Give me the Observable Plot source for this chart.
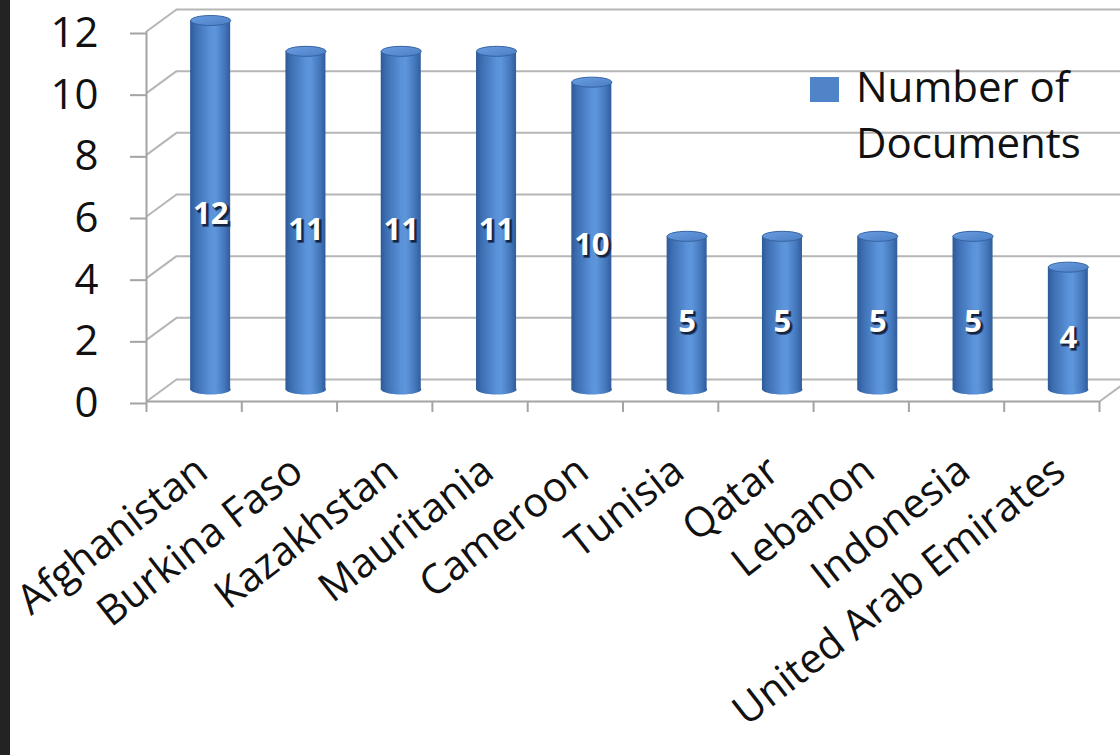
<!DOCTYPE html>
<html><head><meta charset="utf-8">
<script src="https://cdn.jsdelivr.net/npm/d3@7"></script>
<script src="https://cdn.jsdelivr.net/npm/@observablehq/plot@0.6"></script>
<style>
html,body{margin:0;padding:0;background:#fff;}
#wrap{position:relative;width:1120px;height:755px;overflow:hidden;font-family:"Open Sans",sans-serif;background:#fff;}
#strip{position:absolute;left:0;top:0;width:10px;height:755px;background:#232323;}
#swatch{position:absolute;left:810px;top:77px;width:29px;height:25px;background:#4f84c8;}
#legend{position:absolute;left:856px;top:58px;font-size:42px;line-height:56px;color:#111;width:260px;}
#chart svg{display:block;}
</style></head>
<body>
<div id="wrap"><div id="chart"></div><div id="strip"></div><div id="swatch"></div><div id="legend"></div></div>
<script>
const categories = ["Afghanistan","Burkina Faso","Kazakhstan","Mauritania","Cameroon","Tunisia","Qatar","Lebanon","Indonesia","United Arab Emirates"];
const documents = [12,11,11,11,10,5,5,5,5,4];
const yTicks = [0,2,4,6,8,10,12];
const legendLines = ["Number of","Documents"];

const data = categories.map((c,i)=>({category:c, index:i, value:documents[i]}));

function ellipseSymbol(rx, ry){
  const k = 0.5523;
  return {draw(ctx){
    ctx.moveTo(rx,0);
    ctx.bezierCurveTo(rx, ry*k, rx*k, ry, 0, ry);
    ctx.bezierCurveTo(-rx*k, ry, -rx, ry*k, -rx, 0);
    ctx.bezierCurveTo(-rx, -ry*k, -rx*k, -ry, 0, -ry);
    ctx.bezierCurveTo(rx*k, -ry, rx, -ry*k, rx, 0);
    ctx.closePath();
  }};
}
const depthDX = 30, depthDY = -22;
const depthSymbol = {draw(ctx){ ctx.moveTo(0,0); ctx.lineTo(depthDX, depthDY); }};
const barDX = 16.5, barDY = -11, halfW = 0.21;
const cap = ellipseSymbol(20, 5);

const gridColor = "#b6b6b6", axisColor = "#a4a4a4";
const font = "'Open Sans', sans-serif";

const svg = Plot.plot({
  width: 1120, height: 755,
  marginLeft: 146, marginRight: 21, marginTop: 31, marginBottom: 354,
  x: {domain: [0, categories.length]},
  y: {domain: [0, 12]},
  style: {background: "transparent", fontFamily: font, overflow: "visible"},
  marks: [
    // back wall gridlines
    Plot.ruleY(yTicks, {dx: depthDX, dy: depthDY, stroke: gridColor, strokeWidth: 2}),
    // side wall depth lines
    Plot.dot(yTicks, {x: () => 0, y: d => d, symbol: depthSymbol, r: 1, fill: "none", stroke: gridColor, strokeWidth: 2}),
    Plot.dot([0], {x: () => categories.length, y: d => d, symbol: depthSymbol, r: 1, fill: "none", stroke: gridColor, strokeWidth: 2}),
    // front axis lines
    Plot.ruleY([0], {stroke: axisColor, strokeWidth: 2}),
    Plot.ruleX([0], {y1: 0, y2: 12, stroke: axisColor, strokeWidth: 2}),
    Plot.axisY(yTicks, {tickSize: 16, tickPadding: 32, fontSize: 42, stroke: axisColor, strokeWidth: 2, fill: "#111", label: null, dy: 2}),
    Plot.axisX(d3.range(categories.length + 1), {tickSize: 11, tickFormat: () => "", stroke: axisColor, strokeWidth: 2, label: null}),
    // cylinders
    Plot.dot(data, {x: d => d.index + 0.5, y: () => 0, symbol: cap, r: 1, dx: barDX, dy: barDY - 1, fill: "url(#cyl)", stroke: "none"}),
    Plot.rectY(data, {x1: d => d.index + 0.5 - halfW, x2: d => d.index + 0.5 + halfW, y1: 0, y2: "value", dx: barDX, dy: barDY, fill: "url(#cyl)"}),
    Plot.dot(data, {x: d => d.index + 0.5, y: "value", symbol: cap, r: 1, dx: barDX, dy: barDY, fill: "url(#cap)", stroke: "#3563a3", strokeWidth: 1}),
    // data labels (shadow + white)
    Plot.text(data, {x: d => d.index + 0.5, y: d => d.value / 2, text: d => String(d.value), dx: barDX + 2, dy: 0, fill: "#14233f", fontSize: 31, fontWeight: "bold", stroke: "#14233f", strokeWidth: 2, strokeOpacity: 0.6}),
    Plot.text(data, {x: d => d.index + 0.5, y: d => d.value / 2, text: d => String(d.value), dx: barDX, dy: -2, fill: "#fff", fontSize: 31, fontWeight: "bold"}),
    // category labels
    Plot.text(data, {x: d => d.index + 0.5, y: () => 0, text: "category", rotate: -38, textAnchor: "end", lineAnchor: "middle", dx: 8, dy: 64, fontSize: 41, fill: "#111"})
  ]
});

const defs = d3.select(svg).insert("defs", ":first-child");
const g1 = defs.append("linearGradient").attr("id", "cyl").attr("x1", 0).attr("x2", 1).attr("y1", 0).attr("y2", 0);
[[0,"#2c5a97"],[0.12,"#3b6cb0"],[0.5,"#5a91d8"],[0.62,"#5e96dc"],[0.85,"#4578bd"],[1,"#2f5d9c"]].forEach(([o,c]) => g1.append("stop").attr("offset", o).attr("stop-color", c));
const g2 = defs.append("linearGradient").attr("id", "cap").attr("x1", 0).attr("x2", 1).attr("y1", 0).attr("y2", 1);
[[0,"#6a9ee2"],[1,"#4a7dc2"]].forEach(([o,c]) => g2.append("stop").attr("offset", o).attr("stop-color", c));

document.getElementById("chart").appendChild(svg);
document.getElementById("legend").innerHTML = legendLines.join("<br>");
</script>
</body></html>
